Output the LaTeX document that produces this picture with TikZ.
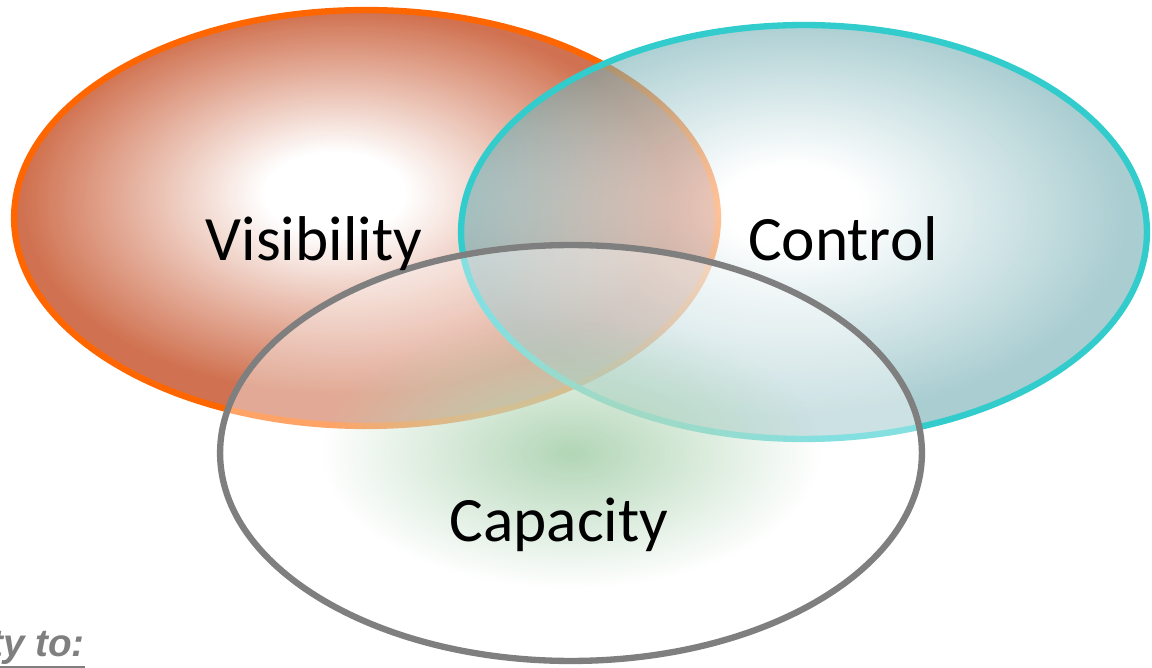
\documentclass[tikz,border=0pt]{standalone}
\usepackage{fontspec}
\setmainfont{Carlito}
\newfontfamily\notefont{Liberation Sans}
\usetikzlibrary{shapes.geometric,fadings}
\definecolor{visline}{HTML}{FF6600}
\definecolor{visedge}{RGB}{204,102,66}
\definecolor{ctlline}{HTML}{33CCCC}
\definecolor{ctledge}{RGB}{112,172,178}
\definecolor{capline}{HTML}{7F7F7F}
\definecolor{capglow}{RGB}{178,214,182}
\pgfdeclareradialshading{visglow}{\pgfpoint{-2.5bp}{3.3bp}}{color(0bp)=(white); color(5bp)=(white); color(23bp)=(visedge); color(50bp)=(visedge)}
\pgfdeclareradialshading{ctlglow}{\pgfpoint{-1bp}{3.5bp}}{color(0bp)=(white); color(5bp)=(white); color(24bp)=(ctledge); color(50bp)=(ctledge)}
\tikzfading[name=glowfade, inner color=transparent!0, outer color=transparent!100]
\tikzset{
  ring/.style={ellipse, inner sep=0pt, line width=3.6pt},
  visring/.style={ring, draw=visline, shade, shading=visglow, fill opacity=0.92,
    minimum width=14.08cm, minimum height=8.32cm},
  ctlring/.style={ring, draw=ctlline, shade, shading=ctlglow, fill opacity=0.6,
    minimum width=13.72cm, minimum height=8.28cm},
  capring/.style={ring, draw=capline, fill=white, fill opacity=0.4,
    minimum width=14.04cm, minimum height=8.32cm},
  lbl/.style={anchor=base, inner sep=0pt, font=\fontsize{36}{43}\selectfont}
}
\begin{document}
\begin{tikzpicture}[x=0.02cm, y=-0.02cm]
        \useasboundingbox (0,0) rectangle (1152,668);
        % the three sets
        \node (vis) [visring] at (366,218) {};
        \node (ctl) [ctlring] at (804,232) {};
        \node (cap) [capring] at (571,453) {};
        \fill[capglow, path fading=glowfade] (cap.center) ellipse [x radius=250, y radius=135];
        % labels
        \node (vistext) [lbl] at (314,261) {Visibility};
        \node (ctltext) [lbl] at (843,261) {Control};
        \node (captext) [lbl] at (559,541) {Capacity};
        \node (note) [anchor=base east, inner sep=0pt, text=capline,
          font=\notefont\bfseries\itshape\fontsize{22}{26}\selectfont] at (85,656) {ty to:};
        \draw[capline, line width=1.8pt] ([yshift=-2pt]note.south west) -- ([yshift=-2pt]note.south east);
\end{tikzpicture}
\end{document}
